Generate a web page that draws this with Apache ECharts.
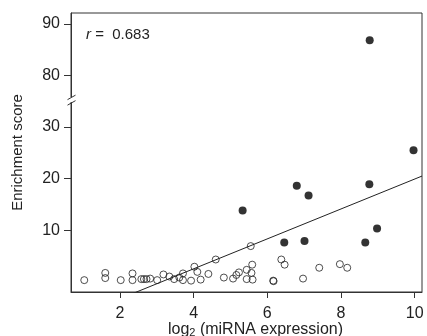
<!DOCTYPE html>
<html><head><meta charset="utf-8">
<script src="https://cdn.jsdelivr.net/npm/echarts@6/dist/echarts.min.js"></script>
<style>html,body{margin:0;padding:0;background:#fff}#c{width:427px;height:336px}</style>
</head><body><div id="c"></div>
<script>
// ---- data ----
const openPoints = [
  [1.03,0.3],[1.60,1.7],[1.60,0.7],[2.02,0.3],[2.34,1.6],[2.34,0.3],
  [2.58,0.5],[2.65,0.5],[2.72,0.5],[2.82,0.6],[3.01,0.3],[3.18,1.4],
  [3.34,1.0],[3.47,0.5],[3.61,0.8],[3.71,1.6],[3.71,0.3],[3.93,0.2],
  [4.02,2.9],[4.10,1.9],[4.19,0.4],[4.40,1.5],[4.60,4.3],[4.82,0.8],
  [5.07,0.6],[5.16,1.3],[5.23,1.8],[5.44,2.3],[5.44,0.5],[5.55,6.9],
  [5.59,3.3],[5.57,1.7],[5.60,0.4],[6.16,0.2],[6.17,0.1],[6.38,4.3],
  [6.47,3.3],[6.97,0.6],[7.41,2.7],[7.97,3.4],[8.17,2.7]
];
const filledPoints = [
  [5.33,13.8],[6.46,7.6],[6.80,18.6],[7.01,7.9],[7.12,16.7],
  [8.66,7.6],[8.77,18.9],[8.78,86.8],[8.98,10.3],[9.97,25.5]
];
const fitSlope = 2.90;
const fitIntercept = -9.1;
const rText = '0.683';
const xTicks = [2, 4, 6, 8, 10];
const yTicks = [10, 20, 30, 80, 90];
const xRange = [0.67, 10.2];
const yRange = [-2, 92.1];
const yBreak = [35, 75]; // values in (35,75) are cut out
// ---- axis-break mapping ----
const breakShift = 40; // scale units removed by the break
function toPlot(v){ return v > yBreak[1] - 5 ? v - breakShift : v; }
function fromPlot(p){ return p > yBreak[0] ? p + breakShift : p; }

const chart = echarts.init(document.getElementById('c'));
const font = 'Liberation Sans, Arial, sans-serif';
const ink = '#222';
const fitLine = [xRange[0], xRange[1]].map(x => [x, toPlot(fitSlope * x + fitIntercept)]);

chart.setOption({
  animation: false,
  backgroundColor: '#fff',
  textStyle: {fontFamily: font},
  grid: {left: 71, top: 13, right: 5, bottom: 44, show: true, borderColor: '#333', borderWidth: 1,
         containLabel: false, outerBoundsMode: 'none'},
  title: {
    text: '{i|r} =  ' + rText,
    left: 81, top: 22,
    textStyle: {fontFamily: font, fontSize: 15, fontWeight: 'normal', color: ink,
      rich: {i: {fontStyle: 'italic', fontSize: 15, fontFamily: font, color: ink}}}
  },
  xAxis: {
    type: 'value', min: xRange[0], max: xRange[1],
    splitLine: {show: false},
    axisLine: {show: true, onZero: false, lineStyle: {color: '#333', width: 1}},
    axisTick: {show: true, length: 6, lineStyle: {color: '#333'}, customValues: xTicks},
    axisLabel: {customValues: xTicks, color: ink, fontSize: 16, margin: 14, fontFamily: font},
    name: '{a|log}{s|2}{a| (miRNA expression)}',
    nameLocation: 'middle', nameGap: 29, nameMoveOverlap: false,
    nameTextStyle: {padding: [0, 0, 0, 18], rich: {
      a: {fontSize: 16, color: ink, fontFamily: font},
      s: {fontSize: 11, color: ink, fontFamily: font, verticalAlign: 'bottom', padding: [6, 0, 0, 0]}
    }}
  },
  yAxis: {
    type: 'value', min: yRange[0], max: toPlot(yRange[1]),
    splitLine: {show: false},
    axisLine: {show: true, onZero: false, lineStyle: {color: '#333', width: 1}},
    axisTick: {show: true, length: 7, lineStyle: {color: '#333'}, customValues: yTicks.map(toPlot)},
    axisLabel: {customValues: yTicks.map(toPlot), color: ink, fontSize: 16, margin: 11, fontFamily: font,
      formatter: v => String(Math.round(fromPlot(v)))},
    name: 'Enrichment score', nameLocation: 'middle', nameGap: 46, nameMoveOverlap: false,
    nameTextStyle: {fontSize: 15, color: ink, fontFamily: font}
  },
  series: [
    {type: 'line', data: fitLine, symbol: 'none', clip: true,
     lineStyle: {color: '#222', width: 1}, z: 1, silent: true},
    {type: 'scatter', data: openPoints.map(p => [p[0], toPlot(p[1])]), symbol: 'circle', symbolSize: 7,
     itemStyle: {color: 'rgba(0,0,0,0)', borderColor: '#222', borderWidth: 1}, z: 2},
    {type: 'scatter', data: filledPoints.map(p => [p[0], toPlot(p[1])]), symbol: 'circle', symbolSize: 8,
     itemStyle: {color: '#000', borderWidth: 0}, z: 3}
  ]
});

// axis-break marker on the y axis
const bp = chart.convertToPixel({gridIndex: 0}, [xRange[0], (yBreak[0] + 0.2)]);
const bx = Math.round(bp[0]) + 0.5, by = bp[1];
chart.setOption({
  graphic: [
    {type: 'rect', shape: {x: bx - 3, y: by - 3, width: 6, height: 5}, style: {fill: '#fff'}, z: 100},
    {type: 'line', shape: {x1: bx - 4, y1: by - 0.5, x2: bx + 4, y2: by - 5}, style: {stroke: '#333', lineWidth: 1}, z: 101},
    {type: 'line', shape: {x1: bx - 4, y1: by + 5, x2: bx + 4, y2: by + 0.5}, style: {stroke: '#333', lineWidth: 1}, z: 101}
  ]
});
</script></body></html>
